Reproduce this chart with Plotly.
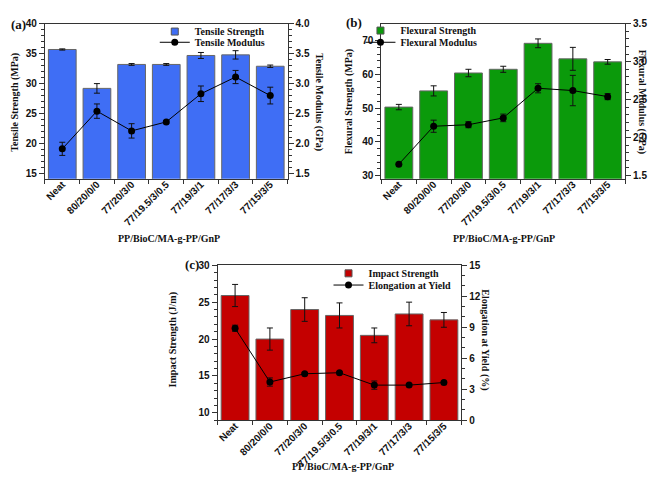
import plotly.graph_objects as go

categories = ["Neat", "80/20/0/0", "77/20/3/0", "77/19.5/3/0.5", "77/19/3/1", "77/17/3/3", "77/15/3/5"]

tensile_strength = [35.7, 29.2, 33.2, 33.2, 34.7, 34.8, 32.9]
tensile_strength_err = [0.1, 0.8, 0.15, 0.15, 0.5, 0.7, 0.2]
tensile_modulus = [1.91, 2.54, 2.21, 2.36, 2.83, 3.11, 2.80]
tensile_modulus_err = [0.11, 0.12, 0.12, 0.02, 0.13, 0.11, 0.14]

flexural_strength = [50.3, 55.1, 60.4, 61.5, 69.2, 64.6, 63.7]
flexural_strength_err = [0.8, 1.5, 1.1, 0.9, 1.3, 3.4, 0.7]
flexural_modulus = [1.65, 2.15, 2.17, 2.26, 2.65, 2.62, 2.54]
flexural_modulus_err = [0.0, 0.08, 0.04, 0.05, 0.06, 0.2, 0.04]

impact_strength = [25.9, 20.0, 24.0, 23.2, 20.5, 23.4, 22.6]
impact_strength_err = [1.5, 1.5, 1.6, 1.7, 1.0, 1.6, 1.0]
elongation_yield = [8.9, 3.7, 4.5, 4.6, 3.4, 3.4, 3.65]
elongation_yield_err = [0.3, 0.4, 0.1, 0.1, 0.4, 0.1, 0.1]

W, H = 660, 479
SERIF = "Liberation Serif, Times New Roman, serif"
SANS = "Liberation Sans, Arial, sans-serif"

fig = go.Figure()

def err(vals):
    return dict(type="data", array=vals, color="#111", thickness=1, width=3, visible=True)

def add_panel(xa, ya, ya2, bars, bars_err, line, line_err, color, bname, lname, lg1, lg2):
    fig.add_trace(go.Bar(x=categories, y=bars, error_y=err(bars_err), name=bname,
                         marker=dict(color=color, line=dict(color="#666", width=1)),
                         width=0.8, xaxis=xa, yaxis=ya, showlegend=False))
    # legend entry with a small square swatch (no data drawn)
    fig.add_trace(go.Scatter(x=[None], y=[None], mode="markers", name=bname,
                             marker=dict(symbol="square", size=7, color=color,
                                         line=dict(color="#555", width=1)),
                             xaxis=xa, yaxis=ya, legend=lg1))
    fig.add_trace(go.Scatter(x=categories, y=line, error_y=err(line_err), name=lname,
                             mode="lines+markers", line=dict(color="black", width=1),
                             marker=dict(color="black", size=7), xaxis=xa, yaxis=ya2, legend=lg2))

add_panel("x", "y", "y2", tensile_strength, tensile_strength_err, tensile_modulus, tensile_modulus_err,
          "#3F6EF5", "Tensile Strength", "Tensile Modulus", "legend", "legend2")
add_panel("x2", "y3", "y4", flexural_strength, flexural_strength_err, flexural_modulus, flexural_modulus_err,
          "#0B9A0B", "Flexural Strength", "Flexural Modulus", "legend3", "legend4")
add_panel("x3", "y5", "y6", impact_strength, impact_strength_err, elongation_yield, elongation_yield_err,
          "#C40000", "Impact Strength", "Elongation at Yield", "legend5", "legend6")

tickfont_b = dict(family=SANS, size=10, color="#111", weight="bold")
xtickfont = dict(family=SANS, size=10, color="#111", weight="bold")

def xaxis(domain, anchor):
    return dict(domain=domain, anchor=anchor, type="category", range=[-0.5, 6.5],
                tickson="boundaries", ticks="outside", ticklen=4, tickcolor="#333",
                tickangle=-45, tickfont=xtickfont, ticklabelstandoff=-5,
                showline=True, linecolor="#333",
                linewidth=1, mirror=True, showgrid=False)

def yaxis(domain, anchor, rng, dtick, mdtick):
    return dict(domain=domain, anchor=anchor, range=rng, tick0=0, dtick=dtick,
                ticks="outside", ticklen=5, tickcolor="#333", tickfont=tickfont_b,
                showline=True, linecolor="#333", linewidth=1, showgrid=False, zeroline=False,
                minor=dict(ticks="outside", ticklen=3, dtick=mdtick, tick0=0, tickcolor="#333"))

def yaxis2(overlay, anchor, rng, dtick, mdtick, fmt=None):
    d = dict(overlaying=overlay, anchor=anchor, side="right", range=rng, tick0=0, dtick=dtick,
             ticks="outside", ticklen=5, tickcolor="#333", tickfont=tickfont_b,
             showline=True, linecolor="#333", linewidth=1, showgrid=False, zeroline=False,
             minor=dict(ticks="outside", ticklen=3, dtick=mdtick, tick0=0, tickcolor="#333"))
    if fmt:
        d["tickformat"] = fmt
    return d

ya_dom = [1 - 169 / H, 1 - 10 / H]
yc_dom = [1 - 416.7 / H, 1 - 257.7 / H]
xa_dom = [36 / W, 279 / W]
xb_dom = [373 / W, 617 / W]
xc_dom = [209 / W, 453 / W]

legfont = dict(family=SERIF, size=10, color="#111", weight="bold")
def leg(x, y):
    return dict(x=x / W, y=1 - y / H, xanchor="left", yanchor="middle", bgcolor="rgba(0,0,0,0)",
                font=legfont, itemwidth=30, tracegroupgap=0)

fig.update_layout(
    width=W, height=H, margin=dict(l=0, r=0, t=0, b=0),
    paper_bgcolor="white", plot_bgcolor="white", bargap=0.2,
    xaxis=xaxis(xa_dom, "y"),
    yaxis=yaxis(ya_dom, "x", [14.1, 40], 5, 1),
    yaxis2=yaxis2("y", "x", [1.41, 4.0], 0.5, 0.1, ".1f"),
    xaxis2=xaxis(xb_dom, "y3"),
    yaxis3=yaxis(ya_dom, "x2", [29.05, 75], 10, 2),
    yaxis4=yaxis2("y3", "x2", [1.458, 3.5], 0.5, 0.1, ".1f"),
    xaxis3=xaxis(xc_dom, "y5"),
    yaxis5=yaxis(yc_dom, "x3", [9, 30], 5, 1),
    yaxis6=yaxis2("y5", "x3", [0, 15], 3, 1),
    legend=leg(146, 18),
    legend2=leg(146, 29),
    legend3=leg(352, 17),
    legend4=leg(352, 29),
    legend5=leg(320, 266),
    legend6=leg(320, 278),
    showlegend=True,
)

titlefont = dict(family=SERIF, size=10, color="#111", weight="bold")
annots = [
    dict(text="(a)", x=0, y=1 - 11 / H, xanchor="left", size=13),
    dict(text="(b)", x=336 / W, y=1 - 9 / H, xanchor="left", size=13),
    dict(text="(c)", x=174 / W, y=1 - 257 / H, xanchor="left", size=13),
    dict(text="Tensile Strength (MPa)", x=6 / W, y=1 - 90 / H, angle=-90),
    dict(text="Tensile Modulus (GPa)", x=311 / W, y=1 - 90 / H, angle=90),
    dict(text="Flexural Strength (MPa)", x=340 / W, y=1 - 90 / H, angle=-90),
    dict(text="Flexural Modulus (GPa)", x=634 / W, y=1 - 90 / H, angle=90),
    dict(text="Impact Strength (J/m)", x=164 / W, y=1 - 334 / H, angle=-90),
    dict(text="Elongation at Yield (%)", x=477 / W, y=1 - 334 / H, angle=90),
    dict(text="PP/BioC/MA-g-PP/GnP", x=160 / W, y=1 - 230 / H),
    dict(text="PP/BioC/MA-g-PP/GnP", x=496 / W, y=1 - 230 / H),
    dict(text="PP/BioC/MA-g-PP/GnP", x=335 / W, y=1 - 464 / H),
]
for a in annots:
    f = dict(titlefont)
    if "size" in a:
        f["size"] = a["size"]
    fig.add_annotation(text=a["text"], x=a["x"], y=a["y"], xref="paper", yref="paper",
                       xanchor=a.get("xanchor", "center"), yanchor="middle",
                       textangle=a.get("angle", 0), showarrow=False, font=f)

fig.write_html("out.html")
